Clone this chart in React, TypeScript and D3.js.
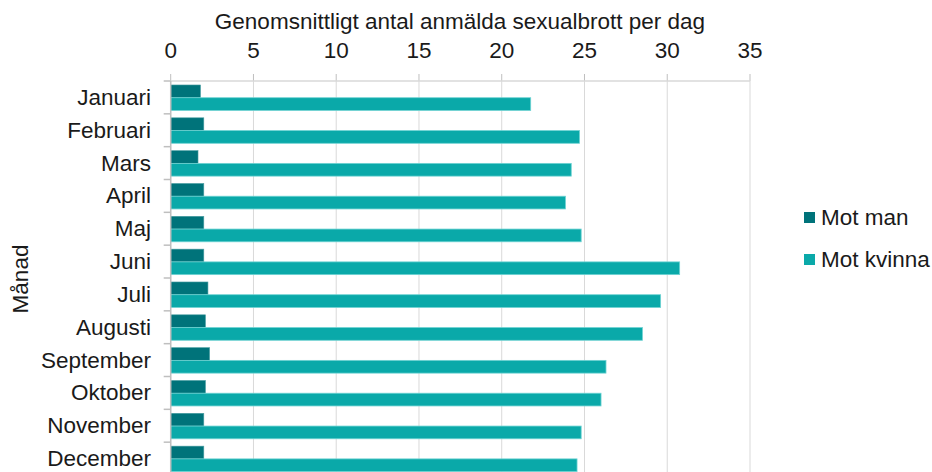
import React from "react";
import * as d3 from "d3";

const months = ["Januari", "Februari", "Mars", "April", "Maj", "Juni", "Juli", "Augusti", "September", "Oktober", "November", "December"];
const motMan = [1.8, 2.0, 1.65, 2.0, 2.0, 2.0, 2.25, 2.1, 2.35, 2.1, 2.0, 2.0];
const motKvinna = [21.75, 24.7, 24.2, 23.85, 24.8, 30.75, 29.6, 28.5, 26.3, 26.0, 24.8, 24.55];
const xTicks = [0, 5, 10, 15, 20, 25, 30, 35];
const seriesNames = ["Mot man", "Mot kvinna"];
const colors = ["#00737a", "#0aa9a9"];
const strokes = ["#4a9ea2", "#6fd3d3"];

export default function App() {
  const W = 932, H = 472;
  const left = 170.7, right = 750, top = 81, bottom = 475;
  const x = d3.scaleLinear().domain([0, 35]).range([left, right]);
  const y = d3.scaleBand<string>().domain(months).range([top, bottom]).paddingInner(0).paddingOuter(0);
  const bw = y.bandwidth();
  const barH = bw * 0.388;
  const off = (bw - 2 * barH) / 2 + 0.3;
  const font = "Liberation Sans, Arial, sans-serif";
  const fs = 22.5;
  return (
    <svg width={W} height={H} style={{ position: "absolute", left: 0, top: 0, background: "#fff" }} fontFamily={font}>
      <rect x={0} y={0} width={W} height={H} fill="#fff" />
      {xTicks.map((t) => (
        <line key={"g" + t} x1={x(t)} x2={x(t)} y1={top} y2={H} stroke="#d9d9d9" strokeWidth={1} />
      ))}
      <text x={460} y={29} textAnchor="middle" fontSize={fs} fill="#1a1a1a">Genomsnittligt antal anmälda sexualbrott per dag</text>
      {xTicks.map((t) => (
        <g key={"t" + t}>
          <line x1={x(t)} x2={x(t)} y1={top - 7} y2={top} stroke="#bfbfbf" />
          <text x={x(t)} y={58} textAnchor="middle" fontSize={fs} fill="#1a1a1a">{t}</text>
        </g>
      ))}
      {months.map((m, i) => (
        <g key={m}>
          <rect x={x(0)} y={(y(m) as number) + off} width={x(motMan[i]) - x(0)} height={barH} fill={colors[0]} stroke={strokes[0]} strokeWidth={0.6} />
          <rect x={x(0)} y={(y(m) as number) + off + barH} width={x(motKvinna[i]) - x(0)} height={barH} fill={colors[1]} stroke={strokes[1]} strokeWidth={0.8} />
          <line x1={left - 7} x2={left} y1={y(m) as number} y2={y(m) as number} stroke="#bfbfbf" strokeWidth={1.5} />
          <text x={151} y={(y(m) as number) + bw / 2 + 7.5} textAnchor="end" fontSize={fs} fill="#1a1a1a">{m}</text>
        </g>
      ))}
      <line x1={left} x2={right} y1={top} y2={top} stroke="#d9d9d9" strokeWidth={1.5} />
      <line x1={left} x2={left} y1={top} y2={H} stroke="#bfbfbf" strokeWidth={1.5} />
      <text transform={`translate(28,279) rotate(-90)`} textAnchor="middle" fontSize={fs} fill="#1a1a1a">Månad</text>
      {seriesNames.map((s, i) => (
        <g key={s}>
          <rect x={804} y={212 + i * 42} width={11} height={11} fill={colors[i]} />
          <text x={821} y={225 + i * 42} fontSize={fs} fill="#1a1a1a">{s}</text>
        </g>
      ))}
    </svg>
  );
}
